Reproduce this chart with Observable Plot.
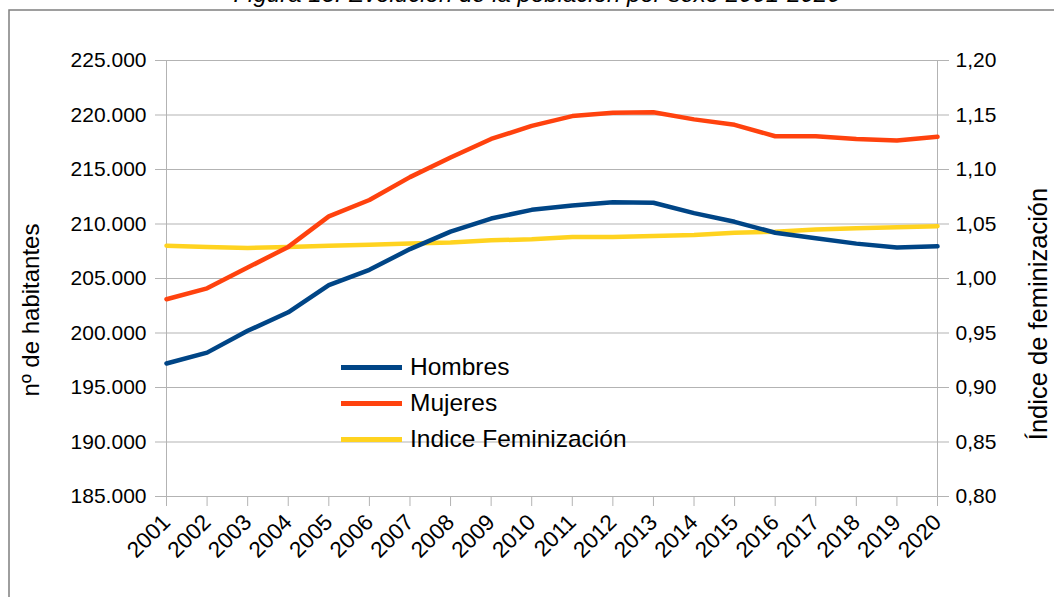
<!DOCTYPE html>
<html><head><meta charset="utf-8">
<script src="https://cdn.jsdelivr.net/npm/d3@7"></script>
<script src="https://cdn.jsdelivr.net/npm/@observablehq/plot@0.6"></script>
<style>
body{margin:0;background:#fff;overflow:hidden;font-family:"Liberation Sans",Arial,sans-serif}
#chart{position:relative;width:1054px;height:597px}
#legend{position:absolute;left:341px;top:349px;font-size:24.5px;line-height:36px;color:#000}
#legend div{display:flex;align-items:center;height:36px;white-space:nowrap}
#legend span.sw{display:inline-block;width:61px;height:5px;margin-right:8px}
</style>
</head><body><div id="chart"><div id="legend"></div></div>
<script>
const years = [2001,2002,2003,2004,2005,2006,2007,2008,2009,2010,2011,2012,2013,2014,2015,2016,2017,2018,2019,2020];
const hombres = [197200,198200,200200,201900,204400,205800,207700,209300,210500,211300,211700,212000,211950,211000,210200,209200,208700,208200,207850,207950];
const mujeres = [203100,204100,206000,207900,210700,212200,214300,216100,217800,219000,219900,220200,220250,219600,219100,218050,218050,217800,217650,218000];
const indice = [1.030,1.029,1.028,1.029,1.030,1.031,1.032,1.033,1.035,1.036,1.038,1.038,1.039,1.040,1.042,1.043,1.045,1.046,1.047,1.048];
const leftTicks = [185000,190000,195000,200000,205000,210000,215000,220000,225000];
const rightTicks = [0.80,0.85,0.90,0.95,1.00,1.05,1.10,1.15,1.20];
const seriesNames = ["Hombres","Mujeres","Indice Feminización"];
const seriesColors = ["#004586","#ff420e","#ffd320"];
const titleText = "Figura 13: Evolución de la población por sexo 2001-2020";
const yLabelLeft = "nº de habitantes";
const yLabelRight = "Índice de feminización";

const toLeft = v => leftTicks[0] + (v - rightTicks[0]) * (leftTicks[leftTicks.length-1]-leftTicks[0]) / (rightTicks[rightTicks.length-1]-rightTicks[0]);
const fromLeft = y => rightTicks[0] + (y - leftTicks[0]) * (rightTicks[rightTicks.length-1]-rightTicks[0]) / (leftTicks[leftTicks.length-1]-leftTicks[0]);
const loc = d3.formatLocale({decimal:",", thousands:".", grouping:[3], currency:["","€"]});
const fmtL = loc.format(",.0f");
const fmtR = loc.format(".2f");

const rows = s => years.map((y,i)=>({year:y, v:s[i]}));
const dH = rows(hombres), dM = rows(mujeres), dI = rows(indice).map(d=>({year:d.year, v:toLeft(d.v)}));

const grid = "#b3b3b3";
const svg = Plot.plot({
  width:1054, height:597,
  marginLeft:166, marginRight:117, marginTop:60, marginBottom:101,
  style:{fontFamily:"'Liberation Sans', Arial, sans-serif", fontSize:"21px", background:"#fff", color:"#000"},
  x:{type:"linear", domain:[years[0], years[years.length-1]], label:null},
  y:{domain:[leftTicks[0], leftTicks[leftTicks.length-1]], label:null},
  marks:[
    Plot.gridY({ticks:leftTicks, stroke:grid, strokeOpacity:1, strokeWidth:1}),
    Plot.frame({stroke:grid, strokeWidth:1}),
    Plot.axisY({ticks:leftTicks, anchor:"left", tickSize:11, tickPadding:9, stroke:grid, strokeOpacity:1, tickFormat:fmtL, label:null, fontSize:21}),
    Plot.axisY({ticks:rightTicks.map(toLeft), anchor:"right", tickSize:11, tickPadding:7, stroke:grid, strokeOpacity:1, tickFormat:d=>fmtR(fromLeft(d)), label:null, fontSize:21}),
    Plot.axisX({ticks:years, anchor:"bottom", tickSize:10, tickPadding:12, tickRotate:-45, stroke:grid, strokeOpacity:1, tickFormat:d=>String(d), label:null, fontSize:22.5}),
    Plot.line(dI, {x:"year", y:"v", stroke:seriesColors[2], strokeWidth:4.5}),
    Plot.line(dH, {x:"year", y:"v", stroke:seriesColors[0], strokeWidth:4.5}),
    Plot.line(dM, {x:"year", y:"v", stroke:seriesColors[1], strokeWidth:4.5})
  ]
});
const chart = document.getElementById("chart");
chart.insertBefore(svg, chart.firstChild);

const s = d3.select(svg);
s.append("rect").attr("x",9).attr("y",10).attr("width",1100).attr("height",700)
  .attr("fill","none").attr("stroke","#7f7f7f").attr("stroke-width",1.5);
s.append("text").attr("x",537).attr("y",2).attr("text-anchor","middle")
  .attr("font-style","italic").attr("font-size",24).attr("fill","#000").text(titleText);
s.append("text").attr("transform","translate(39,310) rotate(-90)").attr("text-anchor","middle")
  .attr("font-size",24).attr("fill","#000").text(yLabelLeft);
s.append("text").attr("transform","translate(1047,314) rotate(-90)").attr("text-anchor","middle")
  .attr("font-size",25.5).attr("fill","#000").text(yLabelRight);

const lg = document.getElementById("legend");
seriesNames.forEach((n,i)=>{
  const row = document.createElement("div");
  const sw = document.createElement("span"); sw.className="sw"; sw.style.background=seriesColors[i];
  row.appendChild(sw); row.appendChild(document.createTextNode(n));
  lg.appendChild(row);
});
</script>
</body></html>
